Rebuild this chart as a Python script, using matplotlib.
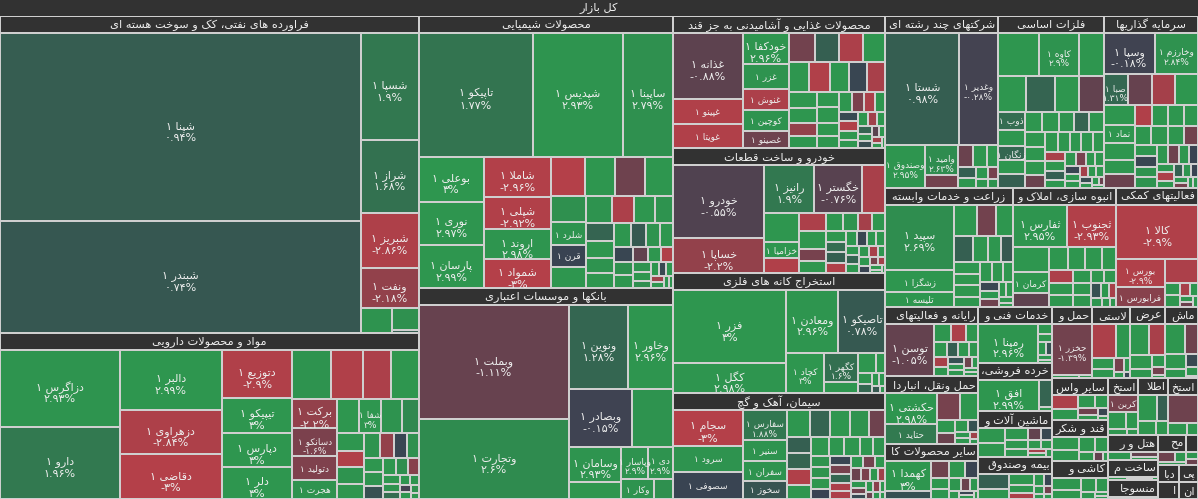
import matplotlib
matplotlib.use('Agg')
import matplotlib.pyplot as plt
from matplotlib.patches import Rectangle
from matplotlib.font_manager import FontProperties

plt.rcParams['font.family'] = ['DejaVu Sans']

W, H = 1198, 499
PHI = (1 + 5 ** 0.5) / 2

# ---------------------------------------------------------------- data
market_title = 'کل بازار'

sector_titles = [
    'فراورده های نفتی، کک و سوخت هسته ای', 'مواد و محصولات دارویی', 'محصولات شیمیایی',
    'بانکها و موسسات اعتباری', 'محصولات غذایی و آشامیدنی به جز قند', 'خودرو و ساخت قطعات',
    'استخراج کانه های فلزی', 'سیمان، آهک و گچ', 'شرکتهای چند رشته ای صنعتی', 'فلزات اساسی',
    'سرمایه گذاریها', 'زراعت و خدمات وابسته', 'انبوه سازی، املاک و مستغلات',
    'فعالیتهای کمکی به نهادهای مالی واسط', 'رایانه و فعالیتهای وابسته به آن',
    'حمل ونقل، انبارداری و ارتباطات', 'سایر محصولات کانی غیرفلزی', 'خدمات فنی و مهندسی',
    'خرده فروشی،باستثنای وسایل نقلیه موتوری', 'ماشین آلات و تجهیزات',
    'بیمه وصندوق بازنشستگی به جزتامین اجتماعی', 'حمل و نقل آبی', 'لاستیک و پلاستیک',
    'عرضه برق، گاز، بخار و آب گرم', 'ماشین آلات و دستگاه های برقی', 'سایر واسطه گریهای مالی',
    'قند و شکر', 'کاشی و سرامیک', 'استخراج نفت گاز و خدمات جنبی', 'اطلاعات و ارتباطات',
    'استخراج زغال سنگ', 'هتل و رستوران', 'ساخت محصولات فلزی', 'منسوجات', 'محصولات چوبی',
    'پیمانکاری صنعتی', 'استخراج سایر معادن', 'انتشارات، چاپ و تکثیر', 'محصولات کاغذی',
    'دباغی، پرداخت چرم',
]
sector_values = [1325, 694, 691, 536, 280, 265, 254, 225, 193, 181, 162, 151, 123, 97,
                 64.4, 62.6, 51.5, 41.6, 35, 34.3, 30.7, 28.7, 27.3, 24.5, 23.8, 23.5,
                 22.4, 21.5, 17.0, 16.9, 16.8, 12.5, 10.1, 9.6, 8.3, 3.3, 3.4, 3.2, 3.6, 3.5]

oil_names = ['شپنا', 'شبندر', 'شسپا', 'شراز', 'شبریز', 'ونفت']
oil_values = [677, 403, 62, 42, 32, 23, 8, 5.8, 0.8]
oil_pct = [0.94, 0.74, 1.9, 1.68, -2.86, -2.18, 2.9, 2.8, 1.0]

pharma_names = ['دزاگرس', 'دارو', 'دالبر', 'دزهراوی', 'دقاضی', 'دتوزیع', 'تیپیکو', 'دپارس', 'دلر',
                '', '', '', '', 'برکت', 'دسانکو', 'دتولید', 'هجرت', '', 'شفا']
pharma_values = [93, 87, 62, 46, 46, 34, 24.5, 24, 23, 19.1, 15.7, 14.2, 13.6, 13.3, 12.6, 10.8,
                 8.6, 7.6, 7.6, 7.0, 5.8, 4.8, 4.6, 4.1, 4.5, 4.0, 3.5, 3.2, 3.0, 2.8, 2.6, 2.5,
                 2.2, 2.0, 1.8, 1.6, 1.4, 1.2, 1.0, 0.9, 0.8, 0.7, 0.6, 0.5]
pharma_pct = [2.93, 1.96, 2.99, -2.84, -3.0, -2.9, 3, 3, 3, 2.9, -2.9, -2.8, 3, -2.2, -1.6, -1.7,
              2.9, 3, 3, 2.9, 2.5, 3, -2.9, 3, 2.9, 2.9, -2.2, 0.1, 2.8, 3, 2.9, 0.5, 3, 2.7,
              -1.9, 3, 2.9, 1.5, 3, 2.9, -0.3, 3, 2.8, 3]

chem_names = ['تاپیکو', 'شپدیس', 'ساپینا', 'بوعلی', 'نوری', 'پارسان', 'شاملا', 'شپلی', 'اروند',
              'شمواد', 'قرن', 'شلرد']
chem_values = [139, 110, 61, 29, 28, 27.5, 26.7, 21, 20, 19, 7.7, 8, 13.3, 11.8, 11.4, 11, 9, 7.5,
               7, 6, 5.5, 5, 4.8, 4.5, 4.3, 4, 3.8, 3.5, 3.3, 3, 2.8, 2.6, 2.4, 2.2, 2, 1.9, 1.7,
               1.5, 1.3, 1.1, 1.0, 0.9, 0.8, 0.7, 0.6, 0.5]
chem_pct = [1.77, 2.93, 2.79, 3, 2.97, 2.99, -2.96, -2.92, 2.98, -3.0, 0.0, 2.9, -3, 3, -1.3, 3,
            2.8, 3, 2.9, -2.8, 3, 2.9, 1.2, 3, 2.9, 3, 3, 0.8, 2.9, 3, 0.1, 2.8, 3, -1.0, 3,
            -2.9, 2.9, 3, 2.7, 3, 0.2, 3, -2.5, 3, 3, 2.9]

bank_names = ['وبملت', 'وتجارت', 'ونوین', 'وخاور', 'وبصادر', '', 'وسامان', '', 'دی', 'وپاسار', 'وکار']
bank_values = [172.5, 120, 49.5, 38, 36, 24, 18.5, 9, 8, 8.6, 6.6, 4]
bank_pct = [-1.11, 2.6, 1.28, 2.96, -0.15, 2.9, 2.93, 3, 2.9, 2.9, 2.9, 2.8]

food_names = ['غذانه', 'غپینو', 'غویتا', 'خودکفا', 'غزر', 'غنوش', 'کوچین', 'غصینو']
food_values = [46, 17, 16.8, 14, 11.5, 9.7, 9.6, 7.8, 7.5, 7.2, 7, 6.4, 6.1, 6, 5.7, 5.4, 5.3,
               4.6, 4.2, 3.6, 3.4, 3.4, 3.3, 2.8, 2.7, 2.6, 2.4, 2.2, 2, 1.9, 1.8, 1.7, 1.6, 1.5,
               1.3, 1.2, 1.1, 1, 0.9, 0.8, 0.7, 0.6, 0.5, 0.4]
food_pct = [-0.88, -2.9, -2.9, 2.96, 2.9, -2.8, 2.9, -1.3, -1.4, 1.0, -2.8, 3, 3, -2.9, 3, 0.1,
            -2.7, 3, 3, -2.2, 3, 3, 3, 3, 3, 3, -1.6, -2.8, 3, 0.2, -2.9, 3, 3, 3, -2.5, 3, 1.2,
            3, 0.4, -0.8, 3, -2.6, 3, 3]

auto_names = ['خودرو', 'خساپا', 'رانیز', 'خگستر', '', '', 'خزامیا']
auto_values = [67, 32, 24, 23, 11, 10.5, 5.5, 5.4, 5.0, 5.0, 3.3, 3.3, 3.0, 2.8, 2.5, 2.5, 2.2,
               2.0, 2.0, 2.0, 1.7, 1.5, 1.5, 1.4, 1.3, 1.2, 1.2, 1.1, 1.0, 0.9, 0.9, 0.8, 0.7,
               0.6, 0.5, 0.4, 0.3]
auto_pct = [-0.55, -2.2, 1.9, -0.76, -2.7, 3, 3, -2.9, -2.8, 3, -1.5, 3, 3, 2.9, -2.6, 3, 3,
            1.5, 1.0, -2.9, 3, 0.1, 3, 3, 3, 1.2, 3, 3, -2.7, 3, 3, 0.0, -1.5, -2.6, 3, 3, 3]

mine_names = ['فزر', 'کگل', 'ومعادن', 'تاصیکو', 'کچاد', 'کگهر']
mine_values = [83, 34, 33, 29.6, 15.6, 10, 3.7, 3.6, 2.0, 1.5, 1.2, 1.0, 0.8, 0.6, 0.4]
mine_pct = [3, 2.98, 2.96, 0.78, 3, 1.6, 3, 3, 3, 2.9, 1.3, 3, 3, 0.8, 3]

cem_names = ['سجام', 'سرود', 'سصوفی', 'سفارس', 'سنیر', 'سفران', 'سخوز']
cem_values = [25.6, 19.2, 19.0, 13.5, 9.1, 9.0, 8.0, 6.2, 5.6, 5.3, 5.3, 4.5, 4.0, 4.0, 4.0, 3.6,
              3.4, 3.0, 3.0, 2.6, 2.4, 2.2, 2.2, 2.0, 2.0, 2.0, 1.8, 1.8, 1.7, 1.7, 1.6, 1.5,
              1.4, 1.3, 1.2, 1.1, 1.0, 1.0, 0.9, 0.8, 0.8, 0.7, 0.6, 0.5, 0.5, 0.4]
cem_pct = [-3, 2.9, 0.05, 1.88, 2.9, 2.9, 0.6, 3, 1.2, 3, 2.9, -1.3, 1.0, 1.2, -2.9, 3, 3, 3, 3,
           3, 2.9, 2.9, 2.9, 3, 0.0, 0.1, -1.5, 1.3, -2.8, -2.8, 3, -1.4, 3, -1.2, -1.6, 3,
           -2.5, 3, -1.4, 0.2, 3, -2.0, 3, -1.2, 3, 3]

multi_names = ['شستا', 'وغدیر', 'وصندوق', 'وامید']
multi_values = [81, 43, 17, 10, 4, 3.2, 3.0, 2.5, 2.0, 1.8, 1.5, 1.2, 1.0, 0.8]
multi_pct = [0.98, -0.28, 2.95, 2.63, -1.4, -1.2, 3, 3, 1.0, 3, 3, -1.5, 3, 2.9]

metal_names = ['', 'کاوه', '', '', '', '', '', 'ذوب', 'زنگان']
metal_values = [18.1, 18, 10.8, 10.6, 10.5, 9.2, 9.0, 5, 4, 4.5, 4.0, 3.8, 3.5, 3.4, 3.2, 3.0,
                3.0, 3.0, 3.0, 2.8, 2.6, 2.5, 2.4, 2.3, 2.3, 2.2, 2.0, 2.0, 1.8, 1.7, 1.6, 1.5,
                1.4, 1.3, 1.2, 1.1, 1.0, 0.9, 0.9, 0.8, 0.7, 0.6, 0.5, 0.4, 0.3]
metal_pct = [3, 2.9, 3, 3, 1.2, 3, -1.0, 1.5, 1.3, 3, 3, 1.0, 3, 3, 2.9, 1.2, 3, 3, 3, 3, -1.2,
             3, 3, 3, 3, 3, -2.7, 3, 1.0, 3, 3, -1.5, 3, 3, 0.1, 3, 3, -2.6, 3, 3, 0.4, 3, 3,
             -1.2, 3]

inv_names = ['وسپا', 'وخارزم', 'صبا', '', '', '', 'نماد']
inv_values = [20, 17, 7.3, 7.1, 7.0, 6.9, 5.5, 6.0, 5.0, 4.5, 4.0, 3.6, 3.5, 3.2, 3.0, 3.0, 3.0,
              2.8, 2.6, 2.4, 2.2, 2.2, 2.2, 2.0, 2.0, 1.8, 1.6, 1.5, 1.4, 1.2, 1.1, 1.0, 0.9,
              0.8, 0.7, 0.6, 0.5]
inv_pct = [-0.18, 2.84, 1.31, -1.1, -2.6, 3, 3, 3, 3, 3, -1.2, -2.9, 3, 3, 3, 3, 3, 3, -1.4, 3,
           0.1, 2.9, 2.9, 3, -1.3, 3, 0.0, 3, -2.8, 3, 1.0, 3, 0.0, 3, -1.5, 3, 3]

agri_names = ['سپید', 'زشگزا', 'تلیسه']
agri_values = [45, 15, 10.5, 7.4, 5.8, 5.3, 5.3, 4.0, 3.3, 3.2, 3.2, 3.0, 3.0, 2.6, 2.4, 2.2,
               2.0, 1.8, 1.6, 1.4, 1.2, 1.0, 0.8, 0.6]
agri_pct = [2.69, 3, 3, 3, -1.4, 3, 1.0, 3, 3, 0.8, 3, 3, 3, 3, 3, 3, 3, 0.1, 3, -1.3, 3, 3, 3, 3]

build_names = ['ثفارس', 'ثجنوب', '', 'کرمان']
build_values = [22, 20, 9, 7.5, 4.8, 4.1, 4.0, 3.6, 3.3, 3.0, 2.8, 2.6, 2.4, 2.2, 2.0, 1.8, 1.6,
                1.4, 1.2, 1.0, 0.9, 0.7, 0.5]
build_pct = [2.95, -2.93, 3, 3, -0.9, 3, 3, 3, 3, -2.8, 3, 3, 3, 3, 3, 3, 3, 0.5, 3, -2.7, 3, 3, 3]

aux_names = ['کالا', 'بورس', 'فرابورس']
aux_values = [44.5, 13.5, 9.7, 8.0, 2.0, 1.8, 1.3, 1.0, 0.8, 0.6, 0.5]
aux_pct = [-2.9, -2.9, -1.9, -2.8, 3, 3, -2.7, 3, 3, -1.2, 3]

it_names = ['توسن']
it_values = [25, 3.0, 2.6, 2.2, 2.0, 1.8, 1.6, 1.5, 1.4, 1.2, 1.1, 1.0, 0.9, 0.8, 0.7, 0.6, 0.5]
it_pct = [-1.05, 3, -2.8, 3, 3, 1.0, 3, 3, -2.7, 3, 0.5, 3, 3, -1.3, 3, 3, 3]

trans_names = ['حکشتی', 'حتاید']
trans_values = [16.5, 10, 6.3, 5, 2.5, 2.0, 1.6, 1.3, 1.0, 0.8, 0.6, 0.4]
trans_pct = [2.98, 2.0, -1.5, 3, 3, -1.2, 3, 0.5, 3, 3, -2.5, 3]

nonmet_names = ['کهمدا']
nonmet_values = [15, 4.0, 3.5, 3.0, 2.6, 2.2, 1.9, 1.6, 1.3, 1.1, 0.9, 0.8, 0.6, 0.4]
nonmet_pct = [3, 0.5, -1.3, 3, 0.0, 3, 3, 3, -1.2, 3, 3, 0.1, 3, 3]

eng_names = ['رمپنا']
eng_values = [24, 1.5, 1.2, 1.0, 0.8, 0.7, 0.5]
eng_pct = [2.96, 3, 3, 3, 0.5, 3, 3]

retail_names = ['افق']
retail_values = [21, 4, 0.5]
retail_pct = [2.99, 1.2, 3]

mach_values = [4.5, 4.0, 3.0, 2.5, 2.0, 1.8, 1.5, 1.3, 1.1, 0.9, 0.8, 0.6]
mach_pct = [3, 3, 3, 3, 3, -1.0, 0.2, 3, 3, -2.6, 3, 3]

ins_values = [5, 3.5, 3, 2.2, 1.6, 1.3, 1.1, 0.9, 0.7, 0.6, 0.5]
ins_pct = [1.0, 3, 3, 3, -2.8, 3, 0.1, 3, -1.4, 3, 3]

water_names = ['حخزر']
water_values = [21, 1.0, 0.5]
water_pct = [-1.39, 3, 3]

rubber_names = ['', 'پیزد']
rubber_values = [8.0, 5.0, 2.5, 2.0, 1.5, 1.0, 0.6, 0.4]
rubber_pct = [-2.8, 3, 3, 3, -1.5, 3, 3, 0.1]

power_values = [6, 5, 3, 2, 1.5, 1.0, 0.5]
power_pct = [3, -2.7, 3, 3, 3, -1.4, 3]

elec_values = [6, 4, 3, 2, 1.5, 1.0, 0.3]
elec_pct = [3, -1.3, 3, 3, 0.2, 3, 3]

ofin_values = [4.0, 3.5, 2.5, 2.0, 1.5, 1.2, 0.9, 0.5]
ofin_pct = [-2.8, 3, 3, 3, -1.3, 3, 0.1, 3]

sugar_values = [3.5, 3.0, 2.5, 2.0, 1.5, 0.8, 0.5]
sugar_pct = [3, 3, 3, 3, 3, -1.0, 3]

tile_values = [4, 3, 2.5, 2, 1.2, 0.6, 0.5]
tile_pct = [3, 3, 3, 3, 3, 3, 3]

oilex_names = ['کربن']
oilex_values = [5, 3, 2, 1.2, 0.7]
oilex_pct = [-1.5, 3, 3, 3, 3]

ict_values = [5, 3, 2.5, 1.8]
ict_pct = [3, 1.0, 3, 3]

coal_values = [9, 2.5, 1.5]
coal_pct = [-1.3, 3, 3]

hotel_values = [4, 3, 2]
hotel_pct = [3, -1.0, 3]

metprod_values = [3, 2.5, 1.5, 1]
metprod_pct = [3, 3, 0.5, 3]

textile_values = [2.5, 2, 1.5]
textile_pct = [3, -1.5, 3]

wood_values = [3, 2, 1.5]
wood_pct = [-1.3, 3, 3]

contr_values = [2, 1.5]
contr_pct = [3, 3]

omine_values = [1.5, 1]
omine_pct = [3, 3]

print_values = [1.5, 1.0]
print_pct = [3, 3]

paper_values = [1, 0.8]
paper_pct = [3, -1.2]

leather_values = [1, 0.8]
leather_pct = [3, 3]

sector_stocks = [
    (oil_names, oil_values, oil_pct), (pharma_names, pharma_values, pharma_pct),
    (chem_names, chem_values, chem_pct), (bank_names, bank_values, bank_pct),
    (food_names, food_values, food_pct), (auto_names, auto_values, auto_pct),
    (mine_names, mine_values, mine_pct), (cem_names, cem_values, cem_pct),
    (multi_names, multi_values, multi_pct), (metal_names, metal_values, metal_pct),
    (inv_names, inv_values, inv_pct), (agri_names, agri_values, agri_pct),
    (build_names, build_values, build_pct), (aux_names, aux_values, aux_pct),
    (it_names, it_values, it_pct), (trans_names, trans_values, trans_pct),
    (nonmet_names, nonmet_values, nonmet_pct), (eng_names, eng_values, eng_pct),
    (retail_names, retail_values, retail_pct), ([], mach_values, mach_pct),
    ([], ins_values, ins_pct), (water_names, water_values, water_pct),
    (rubber_names, rubber_values, rubber_pct), ([], power_values, power_pct),
    ([], elec_values, elec_pct), ([], ofin_values, ofin_pct),
    ([], sugar_values, sugar_pct), ([], tile_values, tile_pct),
    (oilex_names, oilex_values, oilex_pct), ([], ict_values, ict_pct),
    ([], coal_values, coal_pct), ([], hotel_values, hotel_pct),
    ([], metprod_values, metprod_pct), ([], textile_values, textile_pct),
    ([], wood_values, wood_pct), ([], contr_values, contr_pct),
    ([], omine_values, omine_pct), ([], print_values, print_pct),
    ([], paper_values, paper_pct), ([], leather_values, leather_pct),
]

# ---------------------------------------------------------------- persian shaping
FORMS = {
    'ا': ('\uFE8D', '\uFE8E', None, None), 'آ': ('\uFE81', '\uFE82', None, None),
    'ب': ('\uFE8F', '\uFE90', '\uFE91', '\uFE92'), 'پ': ('\uFB56', '\uFB57', '\uFB58', '\uFB59'),
    'ت': ('\uFE95', '\uFE96', '\uFE97', '\uFE98'), 'ث': ('\uFE99', '\uFE9A', '\uFE9B', '\uFE9C'),
    'ج': ('\uFE9D', '\uFE9E', '\uFE9F', '\uFEA0'), 'چ': ('\uFB7A', '\uFB7B', '\uFB7C', '\uFB7D'),
    'ح': ('\uFEA1', '\uFEA2', '\uFEA3', '\uFEA4'), 'خ': ('\uFEA5', '\uFEA6', '\uFEA7', '\uFEA8'),
    'د': ('\uFEA9', '\uFEAA', None, None), 'ذ': ('\uFEAB', '\uFEAC', None, None),
    'ر': ('\uFEAD', '\uFEAE', None, None), 'ز': ('\uFEAF', '\uFEB0', None, None),
    'ژ': ('\uFB8A', '\uFB8B', None, None),
    'س': ('\uFEB1', '\uFEB2', '\uFEB3', '\uFEB4'), 'ش': ('\uFEB5', '\uFEB6', '\uFEB7', '\uFEB8'),
    'ص': ('\uFEB9', '\uFEBA', '\uFEBB', '\uFEBC'), 'ض': ('\uFEBD', '\uFEBE', '\uFEBF', '\uFEC0'),
    'ط': ('\uFEC1', '\uFEC2', '\uFEC3', '\uFEC4'), 'ظ': ('\uFEC5', '\uFEC6', '\uFEC7', '\uFEC8'),
    'ع': ('\uFEC9', '\uFECA', '\uFECB', '\uFECC'), 'غ': ('\uFECD', '\uFECE', '\uFECF', '\uFED0'),
    'ف': ('\uFED1', '\uFED2', '\uFED3', '\uFED4'), 'ق': ('\uFED5', '\uFED6', '\uFED7', '\uFED8'),
    'ک': ('\uFB8E', '\uFB8F', '\uFB90', '\uFB91'), 'گ': ('\uFB92', '\uFB93', '\uFB94', '\uFB95'),
    'ل': ('\uFEDD', '\uFEDE', '\uFEDF', '\uFEE0'), 'م': ('\uFEE1', '\uFEE2', '\uFEE3', '\uFEE4'),
    'ن': ('\uFEE5', '\uFEE6', '\uFEE7', '\uFEE8'), 'ه': ('\uFEE9', '\uFEEA', '\uFEEB', '\uFEEC'),
    'و': ('\uFEED', '\uFEEE', None, None), 'ی': ('\uFBFC', '\uFBFD', '\uFBFE', '\uFBFF'),
}


def joins_next(c):
    return c in FORMS and FORMS[c][2] is not None


def shape(text):
    out = []
    i, n = 0, len(text)
    while i < n:
        c = text[i]
        if c not in FORMS:
            out.append(c)
            i += 1
            continue
        prev = text[i - 1] if i > 0 else ''
        nxt = text[i + 1] if i + 1 < n else ''
        cp = joins_next(prev)
        if c == 'ل' and nxt in ('ا', 'آ'):
            if nxt == 'ا':
                out.append('\uFEFC' if cp else '\uFEFB')
            else:
                out.append('\uFEF6' if cp else '\uFEF5')
            i += 2
            continue
        cn = joins_next(c) and nxt in FORMS
        iso, fin, ini, med = FORMS[c]
        out.append(med if (cp and cn) else fin if cp else ini if cn else iso)
        i += 1
    return ''.join(reversed(out))


PDIG = str.maketrans('0123456789', '۰۱۲۳۴۵۶۷۸۹')


def pct_text(p):
    s = f"{abs(p):.2f}".rstrip('0').rstrip('.')
    return ('-' if p < 0 else '') + s.translate(PDIG) + '%'


# ---------------------------------------------------------------- colours
NEG = (180, 64, 73)
ZERO = (57, 67, 82)
POS = (46, 150, 79)


def colour(p):
    t = min(abs(p) / 3.0, 1.0)
    end = POS if p > 0 else NEG
    return tuple((ZERO[k] + (end[k] - ZERO[k]) * t) / 255 for k in range(3))


# ---------------------------------------------------------------- squarified layout (d3 style)
def squarify(vals, x0, y0, x1, y1):
    rects = []
    n = len(vals)
    i0 = i1 = 0
    value = float(sum(vals))
    while i0 < n:
        dx, dy = x1 - x0, y1 - y0
        sv = vals[i1]
        i1 += 1
        mn = mx = sv
        alpha = max(dy / dx, dx / dy) / (value * PHI)
        beta = sv * sv * alpha
        best = max(mx / beta, beta / mn)
        while i1 < n:
            nv = vals[i1]
            s2 = sv + nv
            mn2, mx2 = min(mn, nv), max(mx, nv)
            beta = s2 * s2 * alpha
            r = max(mx2 / beta, beta / mn2)
            if r > best:
                break
            sv, mn, mx, best = s2, mn2, mx2, r
            i1 += 1
        row = vals[i0:i1]
        if dx < dy:
            ny = y0 + dy * sv / value if i1 < n else y1
            xx = x0
            for v in row:
                w = dx * v / sv
                rects.append((xx, y0, xx + w, ny))
                xx += w
            y0 = ny
        else:
            nx = x0 + dx * sv / value if i1 < n else x1
            yy = y0
            for v in row:
                h = dy * v / sv
                rects.append((x0, yy, nx, yy + h))
                yy += h
            x0 = nx
        value -= sv
        i0 = i1
    return rects


def layout(values, outer, inner):
    order = sorted(range(len(values)), key=lambda k: -values[k])
    rs = squarify([values[k] for k in order], *outer)
    ox0, oy0, ox1, oy1 = outer
    ix0, iy0, ix1, iy1 = inner
    sy = (iy1 - iy0) / (oy1 - oy0)
    res = [None] * len(values)
    for k, r in zip(order, rs):
        res[k] = (r[0], iy0 + (r[1] - oy0) * sy, r[2], iy0 + (r[3] - oy0) * sy)
    return res


# ---------------------------------------------------------------- drawing
fig = plt.figure(figsize=(W / 100, H / 100), dpi=100)
fig.patch.set_facecolor('#cfcfcf')
ax = fig.add_axes([0, 0, 1, 1])
ax.set_xlim(0, W)
ax.set_ylim(H, 0)
ax.axis('off')
renderer = fig.canvas.get_renderer()

HDR = '#323232'
TXT = '#eeeeee'
HFS = 8.2


def text_width(s, fs):
    w, _, _ = renderer.get_text_width_height_descent(s, FontProperties(family='DejaVu Sans',
                                                                          size=fs), ismath=False)
    return w


def header(x0, y0, x1, label, fs=HFS):
    ax.add_patch(Rectangle((x0 + 1, y0 + 1), x1 - x0 - 2, 15, facecolor=HDR, edgecolor='none'))
    avail = (x1 - x0) - 6
    s = label
    while s and text_width(shape(s), fs) > avail:
        s = s[:-1]
    if not s.strip():
        return
    if s == label:
        ax.text((x0 + x1) / 2, y0 + 9, shape(s), ha='center', va='center', color=TXT,
                fontsize=fs)
    else:
        ax.text(x1 - 3, y0 + 9, shape(s.rstrip()), ha='right', va='center', color=TXT,
                fontsize=fs)


# root header
ax.add_patch(Rectangle((0, 0), W, 15.5, facecolor=HDR, edgecolor='none'))
ax.text(W / 2, 8.5, shape(market_title), ha='center', va='center', color=TXT, fontsize=HFS)

sector_rects = layout(sector_values, (0, 0, W, H), (0, 16, W, H))

for title, srect, (names, vals, pcts) in zip(sector_titles, sector_rects, sector_stocks):
    x0, y0, x1, y1 = srect
    header(x0, y0, x1, title)
    cells = layout(vals, (x0, y0, x1, y1), (x0, y0 + 17, x1, y1))
    for k, (cx0, cy0, cx1, cy1) in enumerate(cells):
        ax.add_patch(Rectangle((cx0 + 1, cy0 + 1), max(cx1 - cx0 - 2, 0.3),
                               max(cy1 - cy0 - 2, 0.3), facecolor=colour(pcts[k]),
                               edgecolor='none'))
        name = names[k] if k < len(names) else ''
        if not name:
            continue
        w, h = cx1 - cx0, cy1 - cy0
        mx, my = (cx0 + cx1) / 2, (cy0 + cy1) / 2
        label = '۱ ' + shape(name)
        if w >= 44 and h >= 28:
            ax.text(mx, my - 1, label, ha='center', va='center', color=TXT, fontsize=8)
            ax.text(mx, my + 11, pct_text(pcts[k]), ha='center', va='center', color=TXT,
                    fontsize=8)
        elif w >= 22 and h >= 27:
            ax.text(mx, my - 1, label, ha='center', va='center', color=TXT, fontsize=6.5)
            ax.text(mx, my + 9, pct_text(pcts[k]), ha='center', va='center', color=TXT,
                    fontsize=6.5)
        elif w >= 20 and h >= 11:
            ax.text(mx, my + 1, label, ha='center', va='center', color=TXT, fontsize=6.5)

fig.savefig('out.png', dpi=100, facecolor=fig.get_facecolor())
